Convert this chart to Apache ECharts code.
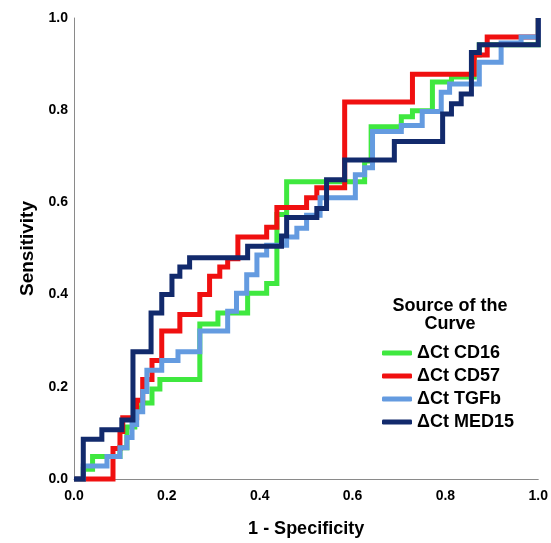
<!DOCTYPE html>
<html><head><meta charset="utf-8">
<script src="https://cdn.jsdelivr.net/npm/echarts/dist/echarts.min.js"></script>
<style>html,body{margin:0;padding:0;background:#fff}#c{width:551px;height:543px}</style>
</head><body><div id="c"></div>
<script>
// ROC curve vertices: [1 - Specificity, Sensitivity]
const cd16 = [[0,0],[0.02,0],[0.02,0.021],[0.04,0.021],[0.04,0.049],[0.099,0.049],[0.099,0.068],[0.114,0.068],[0.114,0.113],[0.131,0.113],[0.131,0.154],[0.146,0.154],[0.146,0.165],[0.168,0.165],[0.168,0.195],[0.185,0.195],[0.185,0.216],[0.271,0.216],[0.271,0.336],[0.31,0.336],[0.31,0.36],[0.374,0.36],[0.374,0.403],[0.415,0.403],[0.415,0.424],[0.437,0.424],[0.437,0.574],[0.458,0.574],[0.458,0.645],[0.626,0.645],[0.626,0.69],[0.64,0.69],[0.64,0.764],[0.705,0.764],[0.705,0.786],[0.729,0.786],[0.729,0.799],[0.772,0.799],[0.772,0.861],[0.813,0.861],[0.813,0.872],[0.862,0.872],[0.862,0.92],[0.873,0.92],[0.873,0.942],[1,0.942],[1,1]];
const cd57 = [[0,0],[0.084,0],[0.084,0.066],[0.099,0.066],[0.099,0.103],[0.105,0.103],[0.105,0.133],[0.135,0.133],[0.135,0.171],[0.148,0.171],[0.148,0.216],[0.168,0.216],[0.168,0.257],[0.189,0.257],[0.189,0.321],[0.228,0.321],[0.228,0.357],[0.271,0.357],[0.271,0.40],[0.292,0.40],[0.292,0.44],[0.314,0.44],[0.314,0.46],[0.331,0.46],[0.331,0.478],[0.353,0.478],[0.353,0.525],[0.415,0.525],[0.415,0.546],[0.437,0.546],[0.437,0.589],[0.501,0.589],[0.501,0.61],[0.523,0.61],[0.523,0.632],[0.583,0.632],[0.583,0.818],[0.729,0.818],[0.729,0.878],[0.862,0.878],[0.862,0.92],[0.89,0.92],[0.89,0.959],[1,0.959],[1,1]];
const tgfb = [[0,0],[0.02,0],[0.02,0.028],[0.071,0.028],[0.071,0.049],[0.099,0.049],[0.099,0.068],[0.114,0.068],[0.114,0.09],[0.125,0.09],[0.125,0.118],[0.135,0.118],[0.135,0.146],[0.148,0.146],[0.148,0.19],[0.157,0.19],[0.157,0.236],[0.189,0.236],[0.189,0.257],[0.224,0.257],[0.224,0.276],[0.271,0.276],[0.271,0.321],[0.331,0.321],[0.331,0.364],[0.35,0.364],[0.35,0.403],[0.372,0.403],[0.372,0.443],[0.394,0.443],[0.394,0.486],[0.415,0.486],[0.415,0.507],[0.458,0.507],[0.458,0.525],[0.48,0.525],[0.48,0.544],[0.501,0.544],[0.501,0.572],[0.53,0.572],[0.53,0.61],[0.606,0.61],[0.606,0.66],[0.626,0.66],[0.626,0.675],[0.643,0.675],[0.643,0.754],[0.705,0.754],[0.705,0.767],[0.75,0.767],[0.75,0.797],[0.791,0.797],[0.791,0.839],[0.809,0.839],[0.809,0.857],[0.873,0.857],[0.873,0.904],[0.92,0.904],[0.92,0.946],[0.963,0.946],[0.963,0.959],[1,0.959],[1,1]];
const med15 = [[0,0],[0.02,0],[0.02,0.086],[0.06,0.086],[0.06,0.107],[0.103,0.107],[0.103,0.128],[0.127,0.128],[0.127,0.276],[0.166,0.276],[0.166,0.36],[0.189,0.36],[0.189,0.40],[0.211,0.40],[0.211,0.44],[0.228,0.44],[0.228,0.46],[0.249,0.46],[0.249,0.48],[0.374,0.48],[0.374,0.505],[0.447,0.505],[0.447,0.527],[0.458,0.527],[0.458,0.567],[0.523,0.567],[0.523,0.587],[0.544,0.587],[0.544,0.649],[0.583,0.649],[0.583,0.692],[0.69,0.692],[0.69,0.732],[0.794,0.732],[0.794,0.792],[0.813,0.792],[0.813,0.814],[0.834,0.814],[0.834,0.835],[0.856,0.835],[0.856,0.925],[0.873,0.925],[0.873,0.942],[1,0.942],[1,1]];

const seriesNames = ['ΔCt CD16','ΔCt CD57','ΔCt TGFb','ΔCt MED15'];
const seriesData = [cd16, cd57, tgfb, med15];
const colors = ['#3fe83f','#f01010','#649be0','#122a6c'];
const axisMin = 0, axisMax = 1, axisStep = 0.2;
const legendTitle = 'Source of the\nCurve';
const xTitle = '1 - Specificity';
const yTitle = 'Sensitivity';

const FONT = 'Arial, "Liberation Sans", sans-serif';
const chart = echarts.init(document.getElementById('c'), null, {renderer:'canvas'});
const axisCommon = {
  type:'value', min:axisMin, max:axisMax, interval:axisStep,
  nameLocation:'middle',
  axisLine:{show:true, lineStyle:{color:'#8a8a8a', width:1}},
  axisTick:{show:false},
  splitLine:{show:false},
  axisLabel:{formatter:v=>v.toFixed(1), color:'#000', fontSize:14, fontWeight:'bold', fontFamily:FONT}
};
chart.setOption({
  animation:false,
  backgroundColor:'#fff',
  grid:{left:74, right:12, top:18, bottom:58, containLabel:false},
  xAxis:Object.assign({}, axisCommon, {name:xTitle, nameGap:41,
    axisLabel:Object.assign({}, axisCommon.axisLabel, {margin:10}),
    nameTextStyle:{fontSize:18, fontWeight:'bold', color:'#000', fontFamily:FONT}}),
  yAxis:Object.assign({}, axisCommon, {name:yTitle, nameGap:36,
    axisLabel:Object.assign({}, axisCommon.axisLabel, {margin:6}),
    nameTextStyle:{fontSize:19, fontWeight:'bold', color:'#000', fontFamily:FONT}}),
  legend:{
    data:seriesNames, orient:'vertical', left:382, top:344, padding:0,
    itemWidth:30, itemHeight:5, itemGap:5, icon:'roundRect',
    textStyle:{fontSize:18, fontWeight:'bold', color:'#000', fontFamily:FONT, lineHeight:18}
  },
  graphic:[{type:'text', x:450, y:297,
    style:{text:legendTitle, textAlign:'center', textVerticalAlign:'top', fill:'#000',
      font:'bold 18px ' + FONT, lineHeight:18}}],
  series:seriesNames.map((n,i)=>({
    name:n, type:'line', data:seriesData[i], showSymbol:false, symbol:'none', clip:false,
    color:colors[i], lineStyle:{color:colors[i], width:5, join:'miter'}
  }))
});
</script></body></html>
